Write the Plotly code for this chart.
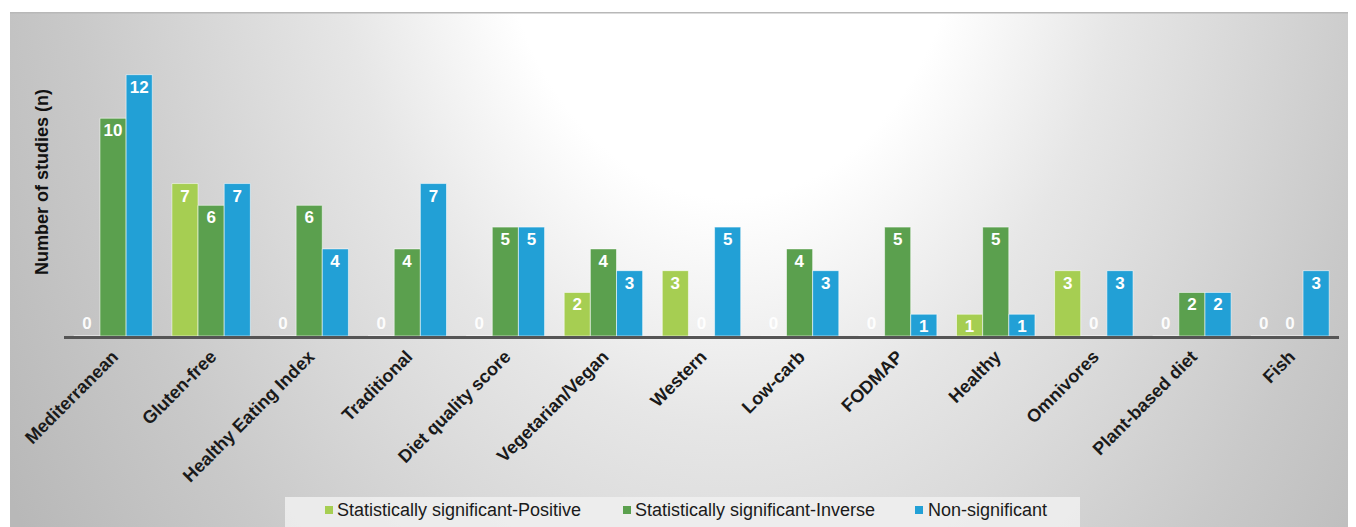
import base64
import plotly.graph_objects as go

categories = ["Mediterranean", "Gluten-free", "Healthy Eating Index", "Traditional",
              "Diet quality score", "Vegetarian/Vegan", "Western", "Low-carb", "FODMAP",
              "Healthy", "Omnivores", "Plant-based diet", "Fish"]
positive = [0, 7, 0, 0, 0, 2, 3, 0, 0, 1, 3, 0, 0]
inverse = [10, 6, 6, 4, 5, 4, 0, 4, 5, 5, 0, 2, 0]
nonsig = [12, 7, 4, 7, 5, 3, 5, 3, 1, 1, 3, 2, 3]
series_names = ["Statistically significant-Positive", "Statistically significant-Inverse", "Non-significant"]
colors = ["#a6ce52", "#5ba04e", "#22a0d6"]

OFF = 8  # page body margin
W, H = 1356 - OFF, 527 - OFF
ML, MR, MT, MB = 64 - OFF, 17, 42 - OFF, 191
PW, PH = W - ML - MR, H - MT - MB

def px_x(px):  # px in screenshot coordinates
    return (px - OFF - ML) / PW

def px_y(py):
    return (H - MB - (py - OFF)) / PH

FONT = "Liberation Sans, Arial, sans-serif"

fig = go.Figure()
for name, vals, col in zip(series_names, [positive, inverse, nonsig], colors):
    fig.add_trace(go.Bar(
        x=categories, y=vals, name=name,
        marker=dict(color=col, line=dict(color="rgba(255,255,255,0.55)", width=1)),
        text=[str(v) for v in vals],
        textposition=["outside" if v == 0 else "inside" for v in vals],
        insidetextanchor="end", textangle=0,
        textfont=dict(family=FONT, size=17, color="white", weight="bold"),
        outsidetextfont=dict(family=FONT, size=17, color="rgba(255,255,255,0.95)", weight="bold"),
        cliponaxis=False, showlegend=False,
    ))

# background radial gradient panel
svg = (
    "<svg xmlns='http://www.w3.org/2000/svg' width='1346' height='515' viewBox='0 0 1346 515' preserveAspectRatio='none'>"
    "<defs><radialGradient id='g' gradientUnits='userSpaceOnUse' cx='0' cy='0' r='1' "
    "gradientTransform='translate(720 -150) scale(850 1200)'>"
    "<stop offset='0' stop-color='#ffffff'/>"
    "<stop offset='0.28' stop-color='#ffffff'/>"
    "<stop offset='0.47' stop-color='#e6e6e6'/>"
    "<stop offset='0.78' stop-color='#c9c9c9'/>"
    "<stop offset='1' stop-color='#b8b8b8'/>"
    "</radialGradient></defs>"
    "<rect x='0' y='0' width='1346' height='515' fill='url(#g)'/>"
    "<rect x='0' y='0' width='1346' height='1.5' fill='#b8b8b8'/>"
    "</svg>"
)
src = "data:image/svg+xml;base64," + base64.b64encode(svg.encode()).decode()
fig.add_layout_image(dict(
    source=src, xref="paper", yref="paper",
    x=px_x(10), y=px_y(12), sizex=(1356 - 10) / PW, sizey=(527 - 12) / PH,
    xanchor="left", yanchor="top", sizing="stretch", layer="below",
))

fig.add_annotation(
    text="<b>Number of studies (n)</b>", xref="paper", yref="paper",
    x=px_x(42), y=px_y(182), textangle=-90, showarrow=False,
    xanchor="center", yanchor="middle",
    font=dict(family=FONT, size=18, color="#111111"),
)

# manual legend
fig.add_shape(type="rect", xref="paper", yref="paper",
              x0=px_x(285), x1=px_x(1080), y0=px_y(527), y1=px_y(497),
              fillcolor="rgba(240,240,240,0.85)", line=dict(width=0), layer="below")
marker_x = [325, 623, 915]
text_x = [335, 633, 926]
leg_y = 510
for mx, tx, name, col in zip(marker_x, text_x, series_names, colors):
    fig.add_shape(type="rect", xref="paper", yref="paper",
                  x0=px_x(mx), x1=px_x(mx + 8), y0=px_y(leg_y + 4), y1=px_y(leg_y - 4),
                  fillcolor=col, line=dict(width=0))
    fig.add_annotation(text=name, xref="paper", yref="paper", x=px_x(tx), y=px_y(leg_y),
                       xanchor="left", yanchor="middle", showarrow=False,
                       font=dict(family=FONT, size=18, color="#1a1a1a"))

fig.update_layout(
    width=W, height=H,
    margin=dict(l=ML, r=MR, t=MT, b=MB),
    paper_bgcolor="white", plot_bgcolor="rgba(0,0,0,0)",
    barmode="group", bargap=0.2, bargroupgap=0,
    uniformtext=dict(minsize=17, mode="show"),
    showlegend=False,
    xaxis=dict(
        tickangle=-45, showline=True, linecolor="#555555", linewidth=3,
        ticks="", showgrid=False, automargin=False,
        tickfont=dict(family=FONT, size=18, color="#1a1a1a", weight="bold"),
    ),
    yaxis=dict(range=[0, 13.5], visible=False, showgrid=False, zeroline=False, automargin=False),
)

fig.write_html("out.html")
